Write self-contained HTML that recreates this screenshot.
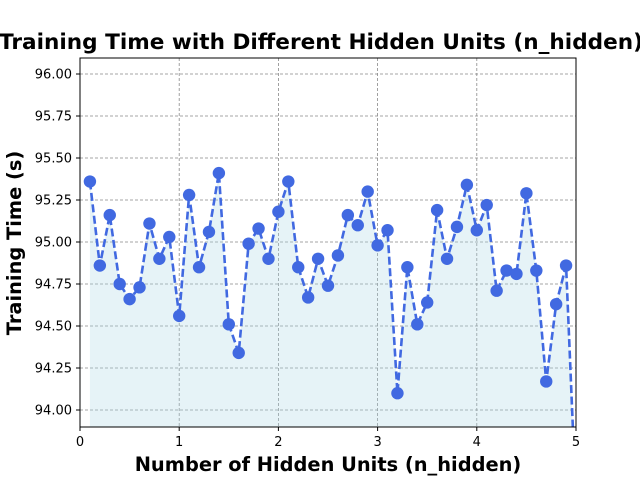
<!DOCTYPE html>
<html><head><meta charset="utf-8"><style>
html,body{margin:0;background:#fff;width:640px;height:480px;overflow:hidden;}
svg{display:block;font-family:"DejaVu Sans","Liberation Sans",sans-serif;}
</style></head><body>
<svg id="chart" width="640" height="480">
<defs><clipPath id="clip"><rect x="80" y="58" width="496" height="369"/></clipPath></defs>
<text x="321" y="49" text-anchor="middle" font-size="21.6" font-weight="bold">Training Time with Different Hidden Units (n_hidden)</text>
<g id="grid"></g>
<g id="plot" clip-path="url(#clip)"></g>
<rect x="80" y="58" width="496" height="369" fill="none" stroke="#000" stroke-width="1"/>
<g id="axes"></g>
<text x="328" y="471" text-anchor="middle" font-size="19.4" font-weight="bold">Number of Hidden Units (n_hidden)</text>
<text transform="translate(21,243) rotate(-90)" text-anchor="middle" font-size="19.4" font-weight="bold">Training Time (s)</text>
</svg>
<script>
const xValues=[0.1,0.2,0.3,0.4,0.5,0.6,0.7,0.8,0.9,1.0,1.1,1.2,1.3,1.4,1.5,1.6,1.7,1.8,1.9,2.0,2.1,2.2,2.3,2.4,2.5,2.6,2.7,2.8,2.9,3.0,3.1,3.2,3.3,3.4,3.5,3.6,3.7,3.8,3.9,4.0,4.1,4.2,4.3,4.4,4.5,4.6,4.7,4.8,4.9,5.0];
const timeValues=[95.36,94.86,95.16,94.75,94.66,94.73,95.11,94.90,95.03,94.56,95.28,94.85,95.06,95.41,94.51,94.34,94.99,95.08,94.90,95.18,95.36,94.85,94.67,94.90,94.74,94.92,95.16,95.10,95.30,94.98,95.07,94.10,94.85,94.51,94.64,95.19,94.90,95.09,95.34,95.07,95.22,94.71,94.83,94.81,95.29,94.83,94.17,94.63,94.86,93.45];
const xTicks=[0,1,2,3,4,5];
const yTicks=[94.00,94.25,94.50,94.75,95.00,95.25,95.50,95.75,96.00];
const NS='http://www.w3.org/2000/svg';
const sx=v=>80+v*99.2;
const sy=v=>74+(96-v)*168;
function mk(t,a,p){const e=document.createElementNS(NS,t);for(const k in a)e.setAttribute(k,a[k]);p.appendChild(e);return e;}
const grid=document.getElementById('grid'),plot=document.getElementById('plot'),axes=document.getElementById('axes');
xTicks.forEach(t=>{
 const g=mk('line',{x1:sx(t),x2:sx(t),y1:58,y2:427,stroke:'#888','stroke-dasharray':'3,2','stroke-width':0.8},grid);
 
 
 const tk=mk('line',{x1:sx(t),x2:sx(t),y1:427,y2:431,stroke:'#000'},axes);
 
 
 const l=mk('text',{x:sx(t),y:446,'text-anchor':'middle','font-size':13},axes);l.textContent=t;
 
 
});
yTicks.forEach(t=>{
 const g=mk('line',{x1:80,x2:576,y1:sy(t),y2:sy(t),stroke:'#888','stroke-dasharray':'3,2','stroke-width':0.8},grid);
 
 
 const tk=mk('line',{x1:76,x2:80,y1:sy(t),y2:sy(t),stroke:'#000'},axes);
 
 
 const l=mk('text',{x:72,y:sy(t)+4.5,'text-anchor':'end','font-size':13},axes);l.textContent=t.toFixed(2);
 
 
});
let pts=xValues.map((x,i)=>sx(x)+','+sy(timeValues[i]));
const fillD='M'+sx(xValues[0])+',427 L'+pts.join(' L')+' L'+sx(xValues[xValues.length-1])+',427 Z';
const area=mk('path',{d:fillD,fill:'#add8e6','fill-opacity':0.3},plot);


const line=mk('polyline',{points:pts.join(' '),fill:'none',stroke:'#4169e1','stroke-width':2.6,'stroke-dasharray':'8,3.5'},plot);


xValues.forEach((x,i)=>{
 const c=mk('circle',{cx:sx(x),cy:sy(timeValues[i]),r:6.2,fill:'#4169e1'},plot);
 
 
});
</script>
</body></html>
